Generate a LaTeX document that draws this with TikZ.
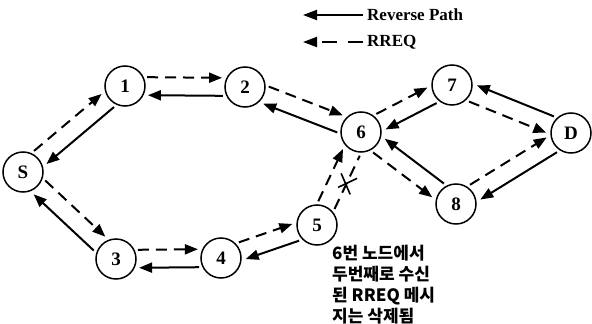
\documentclass[tikz,border=0pt]{standalone}
\usepackage{fontspec}
\setmainfont{Liberation Serif}
\newfontfamily\krfont{Noto Sans CJK KR}
\usetikzlibrary{arrows.meta,calc}
\newcommand\bipair[3]{%
  \draw[req] ($(#1)!9pt!#3:(#2)$) -- ($(#2)!-9pt!#3:(#1)$);
  \draw[rev] ($(#2)!9pt!#3:(#1)$) -- ($(#1)!-9pt!#3:(#2)$);}
\begin{document}
\begin{tikzpicture}[x=1pt,y=-1pt,
  nd/.style={circle,draw,line width=1.5pt,minimum size=40pt,inner sep=0pt,
    font=\fontsize{19}{19}\selectfont\bfseries},
  rev/.style={line width=2pt,-{Triangle[length=13pt,width=10pt]},
    shorten <=22pt,shorten >=23pt},
  req/.style={rev,dash pattern=on 11pt off 7pt},
  legsolid/.style={line width=2pt,-{Triangle[length=14pt,width=10pt]}},
  legdash/.style={legsolid,dash pattern=on 15pt off 11pt},
  legtext/.style={anchor=west,inner sep=0pt,font=\fontsize{17}{17}\selectfont\bfseries},
  kr/.style={anchor=north west,inner sep=0pt,align=left,
    font=\krfont\bfseries\fontsize{17}{21}\selectfont}]
\useasboundingbox (0,0) rectangle (592,324);
% legend
\coordinate (l1s) at (363,15); \coordinate (l1e) at (303,15);
\coordinate (l2s) at (363,42); \coordinate (l2e) at (303,42);
\draw[legsolid] (l1s) -- (l1e);
\draw[legdash] (l2s) -- (l2e);
\node[legtext] (t1) at (367,15) {Reverse Path};
\node[legtext] (t2) at (367,42) {RREQ};
% nodes
\node[nd] (S) at (23,172) {S};
\node[nd] (1) at (125,86) {1};
\node[nd] (2) at (245,87) {2};
\node[nd] (6) at (361,132) {6};
\node[nd] (7) at (452,85) {7};
\node[nd] (D) at (571,133) {D};
\node[nd] (8) at (456,204) {8};
\node[nd] (5) at (317,225) {5};
\node[nd] (4) at (221,258) {4};
\node[nd] (3) at (116,259) {3};
% edges
\bipair{S}{1}{90}
\bipair{1}{2}{90}
\bipair{2}{6}{90}
\bipair{6}{7}{90}
\bipair{7}{D}{-90}
\bipair{8}{D}{90}
\bipair{6}{8}{-90}
\bipair{S}{3}{90}
\bipair{3}{4}{90}
\bipair{4}{5}{90}
% 5 -> 6 : accepted and dropped RREQ
\draw[req] ($(5)!9pt!90:(6)$) -- ($(6)!-9pt!90:(5)$);
\draw[line width=2pt,dash pattern=on 11pt off 7pt,shorten <=22pt,shorten >=22pt]
  ($(5)!9pt!-90:(6)$) -- ($(6)!-9pt!-90:(5)$);
\coordinate (cx) at ($($(5)!0.5!(6)$)!9pt!-90:(6)$);
\draw[line width=1.6pt] ([shift={(-9,5)}]cx) -- ([shift={(10,-4)}]cx);
\draw[line width=1.6pt] ([shift={(-6,-9)}]cx) -- ([shift={(3,12)}]cx);
% note
\node[kr] (note) at (332,245) {6번 노드에서\\두번째로 수신\\된 RREQ 메시\\지는 삭제됨};
\end{tikzpicture}
\end{document}
